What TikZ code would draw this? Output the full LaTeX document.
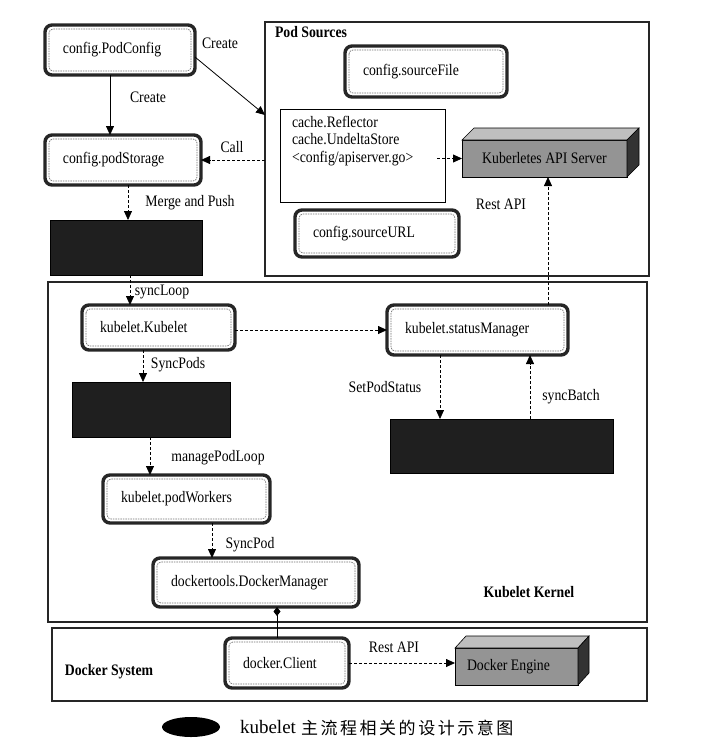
\documentclass[tikz,border=0pt]{standalone}
\usepackage{fontspec}
\setmainfont{Liberation Serif}[FakeStretch=0.86]
\newfontfamily\capfont{Liberation Serif}
\newfontfamily\cjkfont[LetterSpace=15]{Noto Sans CJK SC}
\usetikzlibrary{arrows.meta}
\tikzset{
  every node/.style={font=\fontsize{16}{17.5}\selectfont, inner sep=0pt, outer sep=0pt},
  dbox/.style={draw=black!85, line width=3.4pt, rounded corners=7pt, fill=white, anchor=north west,
    inner xsep=18pt, inner ysep=0pt, align=left,
    path picture={\draw[black!55, line width=0.7pt, dash pattern=on 1.5pt off 1pt, rounded corners=4pt]
      ([shift={(4pt,-4pt)}]path picture bounding box.north west) rectangle
      ([shift={(-4pt,4pt)}]path picture bounding box.south east);}},
  blackbox/.style={draw=black, fill=black!88, anchor=north west},
  plainbox/.style={draw=black, line width=0.9pt, fill=white, anchor=north west},
  container/.style={draw=black!85, line width=1.1pt, anchor=north west},
  front3d/.style={draw=black, line width=0.6pt, fill=black!42, anchor=north west},
  top3d/.style={draw=black, line width=0.6pt, fill=black!25},
  side3d/.style={draw=black, line width=0.6pt, fill=black!80},
  arr/.style={line width=0.8pt, -{Triangle[length=9pt,width=8pt]}},
  darr/.style={arr, dash pattern=on 3pt off 2pt},
  lbl/.style={},
  title/.style={font=\fontsize{16}{17.5}\selectfont\bfseries},
}
\begin{document}
\begin{tikzpicture}[x=1pt, y=-1pt]
\useasboundingbox (0,0) rectangle (721,748);
% containers
\node[container, minimum width=384, minimum height=254] (podsources) at (265,22) {};
\node[container, minimum width=599, minimum height=340] (kernel) at (48,282) {};
\node[container, minimum width=595, minimum height=73] (docker) at (52,628) {};
\node[title] (tpod) at (311,32) {Pod Sources};
\node[title] (tkernel) at (529,592) {Kubelet Kernel};
\node[title] (tdocker) at (109,672) {Docker System};

% helper coordinates
\coordinate (x110) at (110,0);
\coordinate (x128) at (128,0);
\coordinate (x130) at (130,0);
\coordinate (x143) at (143,0);
\coordinate (x150) at (150,0);
\coordinate (x212) at (212,0);
\coordinate (x277) at (277,0);
\coordinate (x440) at (440,0);
\coordinate (x530) at (530,0);
\coordinate (x548) at (548,0);
\coordinate (x437) at (437,0);
\coordinate (pstarget) at (265,115);

% double-border boxes
\node[dbox, text width=114, minimum height=50] (podconfig) at (45,25) {config.PodConfig};
\node[dbox, text width=120, minimum height=50] (podstorage) at (45,135) {config.podStorage};
\node[dbox, text width=126, minimum height=51] (sourcefile) at (345,46) {config.sourceFile};
\node[dbox, text width=128, minimum height=47] (sourceurl) at (295,210) {config.sourceURL};
\node[dbox, text width=117, minimum height=45] (kubelet) at (82,305) {kubelet.Kubelet};
\node[dbox, text width=145, minimum height=50] (statusmgr) at (387,305) {kubelet.statusManager};
\node[dbox, text width=131, minimum height=48] (podworkers) at (103,475) {kubelet.podWorkers};
\node[dbox, text width=170, minimum height=49] (dockermgr) at (153,558) {dockertools.DockerManager};
\node[dbox, text width=88, minimum height=50] (client) at (225,638) {docker.Client};

% plain / black boxes
\node[plainbox, minimum width=165, minimum height=93] (cache) at (280,109) {};
\node[anchor=north west, align=left] (cachetxt) at (292,116) {cache.Reflector\\cache.UndeltaStore\\<config/apiserver.go>};
\node[blackbox, minimum width=152, minimum height=55] (black1) at (50,220) {};
\node[blackbox, minimum width=158, minimum height=55] (black2) at (72,382) {};
\node[blackbox, minimum width=223, minimum height=54] (black3) at (390,419) {};

% 3D boxes
\node[front3d, minimum width=165, minimum height=37] (api) at (462,140) {};
\draw[top3d] (api.north west) -- ++(12,-12) -- ([shift={(12,-12)}]api.north east) -- (api.north east) -- cycle;
\draw[side3d] (api.north east) -- ++(12,-12) -- ++(0,37) -- (api.south east) -- cycle;
\node (apitxt) at (api.center) {Kuberletes API Server};
\node[front3d, minimum width=123, minimum height=37] (engine) at (455,648) {};
\draw[top3d] (engine.north west) -- ++(11,-12) -- ([shift={(11,-12)}]engine.north east) -- (engine.north east) -- cycle;
\draw[side3d] (engine.north east) -- ++(11,-12) -- ++(0,37) -- (engine.south east) -- cycle;
\node (enginetxt) at ([xshift=-8pt]engine.center) {Docker Engine};

% connectors
\draw[arr] ([yshift=-7pt]podconfig.east) -- (pstarget);
\node[lbl] (lcreate1) at (220,43) {Create};
\draw[arr] (podconfig.south -| x110) -- (podstorage.north -| x110);
\node[lbl] (lcreate2) at (148,97) {Create};
\draw[darr] (podsources.west |- podstorage.east) -- (podstorage.east);
\node[lbl] (lcall) at (232,147) {Call};
\draw[darr] (podstorage.south -| x128) -- (black1.north -| x128);
\node[lbl] (lmerge) at (190,203) {Merge and Push};
\draw[darr] (black1.south -| x130) -- (kubelet.north -| x130);
\node[lbl] (lsyncloop) at (162,292) {syncLoop};
\draw[darr] (kubelet.east |- statusmgr.west) -- (statusmgr.west);
\draw[darr] (kubelet.south -| x143) -- (black2.north -| x143);
\node[lbl] (lsyncpods) at (178,365) {SyncPods};
\draw[darr] (black2.south -| x150) -- (podworkers.north -| x150);
\node[lbl] (lmanage) at (218,458) {managePodLoop};
\draw[darr] (podworkers.south -| x212) -- (dockermgr.north -| x212);
\node[lbl] (lsyncpod) at (250,545) {SyncPod};
\draw[line width=0.8pt, {Diamond[length=9pt,width=7pt]}-] (dockermgr.south -| x277) -- (client.north -| x277);
\draw[darr] (statusmgr.north -| x548) -- (api.south -| x548);
\node[lbl] (lrest1) at (501,204) {Rest API};
\draw[darr] (statusmgr.south -| x440) -- (black3.north -| x440);
\node[lbl] (lsetpod) at (385,387) {SetPodStatus};
\draw[darr] (black3.north -| x530) -- (statusmgr.south -| x530);
\node[lbl] (lsyncbatch) at (571,397) {syncBatch};
\draw[darr] (x437 |- api.west) -- (api.west);
\draw[darr] (client.east) -- (client.east -| engine.west);
\node[lbl] (lrest2) at (394,647) {Rest API};

% caption
\fill[black] (191,727) ellipse (29 and 10);
\node (capk) at (268,727) {\capfont\fontsize{19}{22}\selectfont kubelet};
\node[anchor=west] (capc) at (301,728) {\cjkfont\fontsize{17}{20}\selectfont 主流程相关的设计示意图};
\end{tikzpicture}
\end{document}
